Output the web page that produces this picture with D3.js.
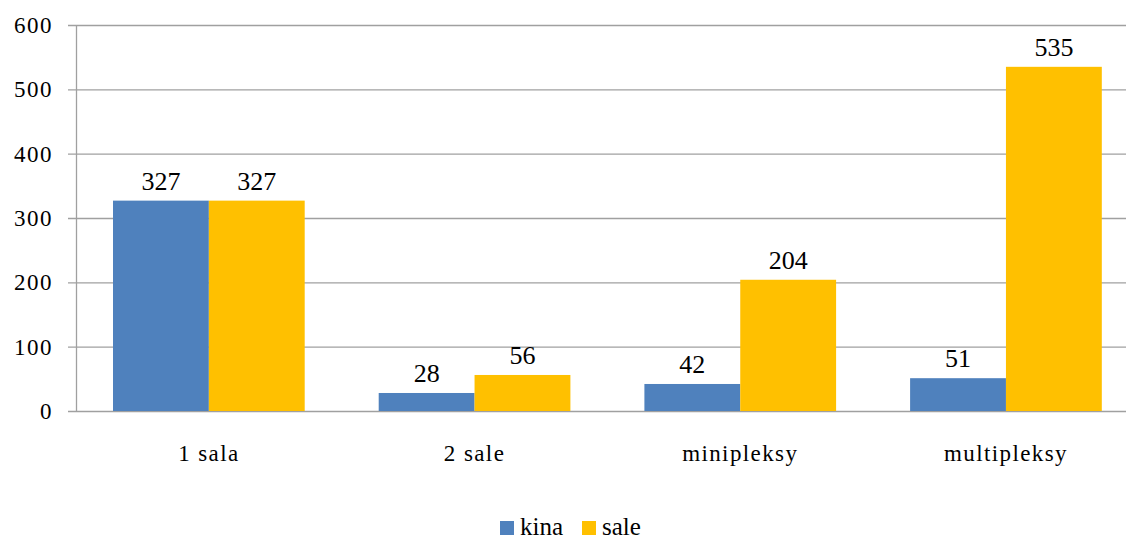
<!DOCTYPE html>
<html><head><meta charset="utf-8">
<script src="https://d3js.org/d3.v7.min.js"></script>
<style>body{margin:0;background:#fff;} svg{display:block;}</style>
</head><body><svg id="c" width="1126" height="541"></svg>
<script>
const categories = ["1 sala", "2 sale", "minipleksy", "multipleksy"];
const seriesNames = ["kina", "sale"];
const kina = [327, 28, 42, 51];
const sale = [327, 56, 204, 535];
const yTicks = [0, 100, 200, 300, 400, 500, 600];
const colors = ["#4F81BD", "#FFC000"];

(function () {
const FONT = "Liberation Serif";
const svg = d3.select("#c");
const left = 76, bandW = 265.7, plotTop = 25, plotBottom = 411;
const x = d3.scaleBand().domain(categories).range([left, left + bandW * categories.length]).padding(0);
const y = d3.scaleLinear().domain([0, 600]).range([plotBottom, plotTop]);
const inner = 37 / 265.7;
const gw = x.bandwidth() * (1 - 2 * inner);
const xs = d3.scaleBand().domain(seriesNames).range([x.bandwidth() * inner, x.bandwidth() * inner + gw]);

function txt(sel, size, ls) {
  return sel.attr("font-family", FONT).style("font-family", FONT, "important")
    .style("font-size", size + "px", "important").style("letter-spacing", (ls || 0) + "px").attr("fill", "#000");
}

svg.append("g").selectAll("line").data(yTicks).join("line")
  .attr("x1", left - 8).attr("x2", 1126).attr("y1", d => y(d) + 0.5).attr("y2", d => y(d) + 0.5)
  .attr("stroke", "#a0a0a0").attr("stroke-width", 1.3);
svg.append("line").attr("x1", left + 0.5).attr("x2", left + 0.5).attr("y1", plotTop).attr("y2", plotBottom + 1)
  .attr("stroke", "#a0a0a0").attr("stroke-width", 1.3);

txt(svg.append("g").selectAll("text").data(yTicks).join("text")
  .attr("x", 53).attr("y", d => y(d)).attr("dy", "0.35em").attr("text-anchor", "end"), 23, 1.5).text(d => d);

const data = [kina, sale];
seriesNames.forEach((s, si) => {
  const g = svg.append("g");
  g.selectAll("rect").data(categories).join("rect")
    .attr("x", c => x(c) + xs(s)).attr("width", xs.bandwidth())
    .attr("y", (c, i) => y(data[si][i])).attr("height", (c, i) => y(0) - y(data[si][i]))
    .attr("fill", colors[si]);
  txt(g.selectAll("text").data(categories).join("text")
    .attr("x", c => x(c) + xs(s) + xs.bandwidth() / 2)
    .attr("y", (c, i) => y(data[si][i]) - 11)
    .attr("text-anchor", "middle"), 26, 0)
    .text((c, i) => data[si][i]);
});

txt(svg.append("g").selectAll("text").data(categories).join("text")
  .attr("x", c => x(c) + x.bandwidth() / 2).attr("y", 461)
  .attr("text-anchor", "middle"), 23, 1.4).text(c => c);

const leg = [{n: "kina", x: 500}, {n: "sale", x: 582}];
leg.forEach((l, i) => {
  svg.append("rect").attr("x", l.x).attr("y", 521).attr("width", 14).attr("height", 14).attr("fill", colors[i]);
  txt(svg.append("text").attr("x", l.x + 20).attr("y", 535), 25, 0).text(l.n);
});
})();
</script></body></html>
